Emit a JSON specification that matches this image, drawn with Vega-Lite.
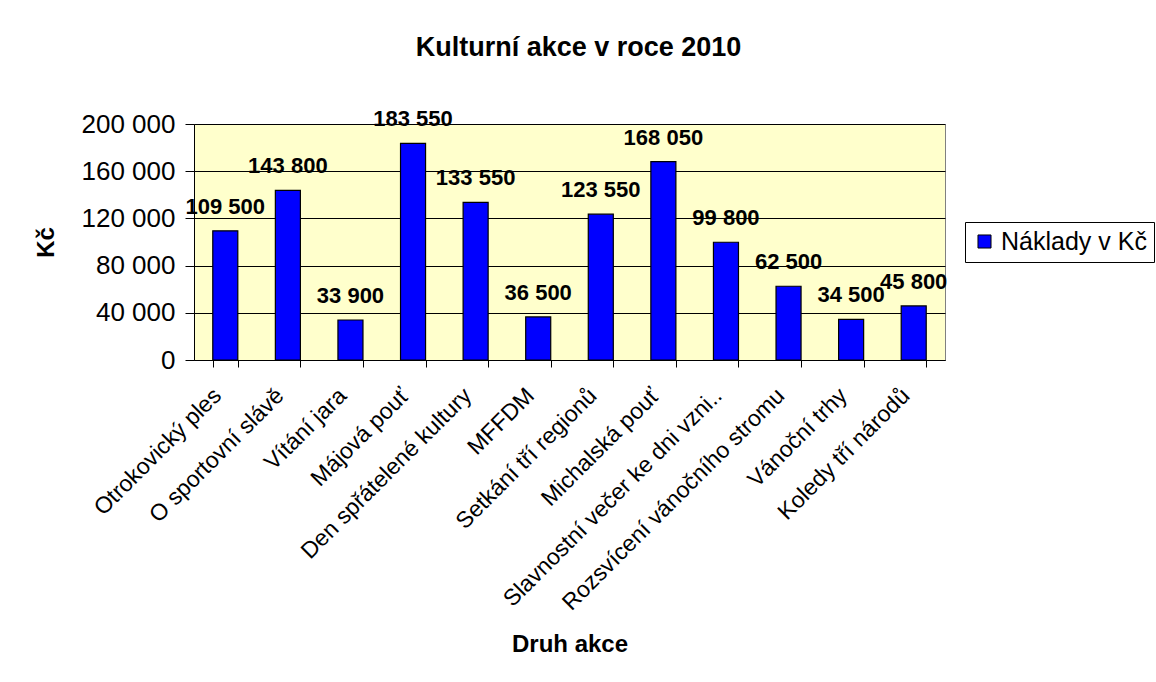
{
  "$schema": "https://vega.github.io/schema/vega-lite/v6.json",
  "autosize": "none",
  "width": 751,
  "height": 236,
  "padding": {"left": 194, "top": 124, "right": 211, "bottom": 322},
  "background": "white",
  "title": {
    "text": "Kulturní akce v roce 2010",
    "anchor": "middle",
    "frame": "group",
    "dx": 9,
    "offset": 46,
    "font": "Liberation Sans",
    "fontSize": 27,
    "fontWeight": "bold",
    "color": "black"
  },
  "config": {
    "locale": {"number": {"decimal": ",", "thousands": " ", "grouping": [3], "currency": ["", " Kč"]}},
    "view": {"fill": "#FFFFCC", "stroke": "#808080", "strokeWidth": 1},
    "font": "Liberation Sans",
    "axis": {
      "labelFont": "Liberation Sans",
      "titleFont": "Liberation Sans",
      "labelColor": "black",
      "titleColor": "black",
      "domainColor": "black",
      "tickColor": "black",
      "gridColor": "black",
      "gridOpacity": 1,
      "domainWidth": 1,
      "tickWidth": 1,
      "gridWidth": 1
    }
  },
  "data": {
    "values": [
      {"akce": "Otrokovický ples", "naklady": 109500, "serie": "Náklady v Kč"},
      {"akce": "O sportovní slávě", "naklady": 143800, "serie": "Náklady v Kč"},
      {"akce": "Vítání jara", "naklady": 33900, "serie": "Náklady v Kč"},
      {"akce": "Májová pouť", "naklady": 183550, "serie": "Náklady v Kč"},
      {"akce": "Den spřátelené kultury", "naklady": 133550, "serie": "Náklady v Kč"},
      {"akce": "MFFDM", "naklady": 36500, "serie": "Náklady v Kč"},
      {"akce": "Setkání tří regionů", "naklady": 123550, "serie": "Náklady v Kč"},
      {"akce": "Michalská pouť", "naklady": 168050, "serie": "Náklady v Kč"},
      {"akce": "Slavnostní večer ke dni vzni..", "naklady": 99800, "serie": "Náklady v Kč"},
      {"akce": "Rozsvícení vánočního stromu", "naklady": 62500, "serie": "Náklady v Kč"},
      {"akce": "Vánoční trhy", "naklady": 34500, "serie": "Náklady v Kč"},
      {"akce": "Koledy tří národů", "naklady": 45800, "serie": "Náklady v Kč"}
    ]
  },
  "encoding": {
    "x": {
      "field": "akce",
      "type": "nominal",
      "sort": null,
      "scale": {"paddingInner": 0.6, "paddingOuter": 0.3},
      "axis": {
        "title": "Druh akce",
        "titleFontSize": 24,
        "titleFontWeight": "bold",
        "titleY": 272,
        "titleBaseline": "top",
        "labelAngle": -45,
        "labelFontSize": 23,
        "labelPadding": 17,
        "labelOffset": -16,
        "tickBand": "extent",
        "tickSize": 7,
        "labelLimit": 400
      }
    },
    "y": {
      "field": "naklady",
      "type": "quantitative",
      "scale": {"domain": [0, 200000], "nice": false},
      "axis": {
        "title": "Kč",
        "titleFontSize": 24,
        "titleFontWeight": "bold",
        "titlePadding": 23,
        "values": [0, 40000, 80000, 120000, 160000, 200000],
        "format": ",d",
        "labelFontSize": 26,
        "tickSize": 9,
        "labelPadding": 10,
        "grid": true
      }
    }
  },
  "layer": [
    {
      "mark": {"type": "bar", "stroke": "black", "strokeWidth": 1.2},
      "encoding": {
        "color": {
          "field": "serie",
          "type": "nominal",
          "scale": {"range": ["#0000FF"]},
          "legend": {
            "title": null,
            "orient": "none",
            "legendX": 771,
            "legendY": 98,
            "strokeColor": "black",
            "fillColor": "white",
            "padding": 7,
            "symbolType": "square",
            "symbolSize": 170,
            "symbolStrokeColor": "black",
            "symbolStrokeWidth": 1,
            "symbolOpacity": 1,
            "labelFont": "Liberation Sans",
            "labelFontSize": 25,
            "labelColor": "black",
            "labelLimit": 300
          }
        }
      }
    },
    {
      "mark": {"type": "text", "baseline": "alphabetic", "dy": -17, "font": "Liberation Sans", "fontSize": 22, "fontWeight": "bold", "color": "black"},
      "encoding": {
        "text": {"field": "naklady", "type": "quantitative", "format": ",d"}
      }
    }
  ]
}
